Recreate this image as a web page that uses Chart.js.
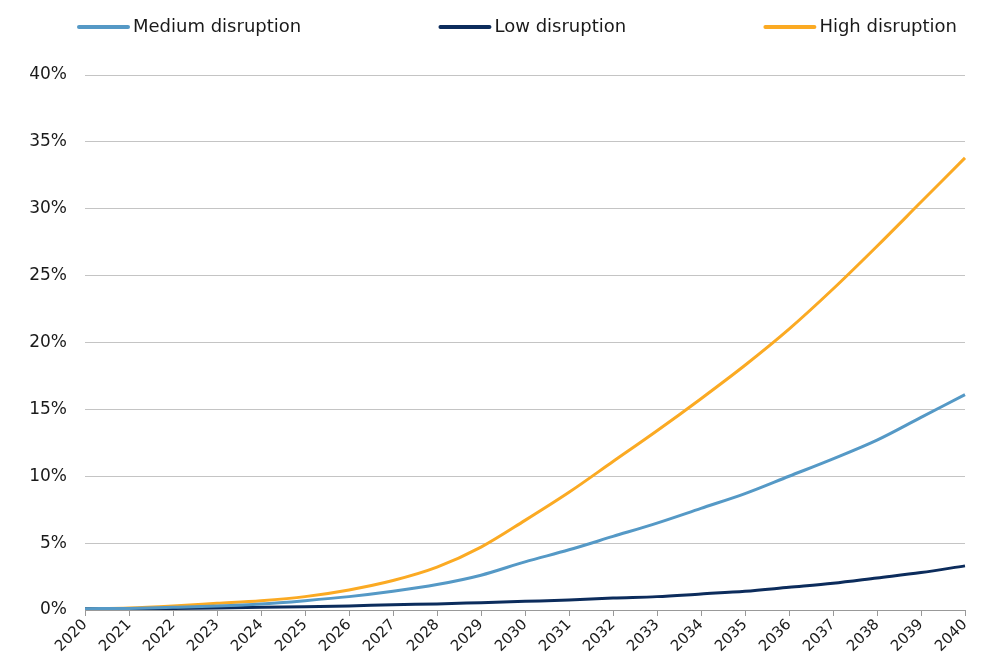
<!DOCTYPE html>
<html>
<head>
<meta charset="utf-8">
<script src="https://cdn.jsdelivr.net/npm/chart.js@4"></script>
<style>
html,body{margin:0;padding:0;background:#fff;}
#wrap{width:990px;height:665px;position:relative;}
</style>
</head>
<body>
<div id="wrap"><canvas id="c" width="990" height="665"></canvas></div>
<script>
const years = ['2020','2021','2022','2023','2024','2025','2026','2027','2028','2029','2030','2031','2032','2033','2034','2035','2036','2037','2038','2039','2040'];
const mediumDisruption = [0.1, 0.12, 0.2, 0.3, 0.45, 0.7, 1.0, 1.4, 1.9, 2.6, 3.6, 4.5, 5.5, 6.5, 7.6, 8.7, 10.0, 11.3, 12.7, 14.4, 16.1];
const lowDisruption = [0.1, 0.1, 0.12, 0.15, 0.2, 0.25, 0.3, 0.4, 0.45, 0.55, 0.65, 0.75, 0.9, 1.0, 1.2, 1.4, 1.7, 2.0, 2.4, 2.8, 3.3];
const highDisruption = [0.1, 0.15, 0.3, 0.5, 0.7, 1.0, 1.5, 2.2, 3.2, 4.7, 6.7, 8.8, 11.1, 13.4, 15.8, 18.3, 21.0, 24.0, 27.2, 30.5, 33.8];
const seriesNames = ['Medium disruption', 'Low disruption', 'High disruption'];
const yTicks = [0, 5, 10, 15, 20, 25, 30, 35, 40];

const colors = ['#5599c6', '#0c2c5c', '#fbaa23'];
const FONT = '"DejaVu Sans", sans-serif';

const customLegend = {
  id: 'customLegend',
  afterDraw(chart) {
    const ctx = chart.ctx;
    ctx.save();
    ctx.font = '18px ' + FONT;
    const lineW = 53, gapLT = 3;
    const widths = chart.data.datasets.map(d => lineW + gapLT + ctx.measureText(d.label).width);
    const x0 = 77, x1 = 957;
    const total = widths.reduce((a, b) => a + b, 0);
    const gap = (x1 - x0 - total) / (widths.length - 1);
    let x = x0;
    const y = 27;
    chart.data.datasets.forEach((d, i) => {
      ctx.strokeStyle = d.borderColor;
      ctx.lineWidth = 4;
      ctx.lineCap = 'round';
      ctx.beginPath();
      ctx.moveTo(x + 2, y);
      ctx.lineTo(x + lineW - 2, y);
      ctx.stroke();
      ctx.fillStyle = '#1a1a1a';
      ctx.textBaseline = 'middle';
      ctx.textAlign = 'left';
      ctx.fillText(d.label, x + lineW + gapLT, y);
      x += widths[i] + gap;
    });
    ctx.restore();
  }
};

new Chart(document.getElementById('c'), {
  type: 'line',
  data: {
    labels: years,
    datasets: [
      { label: seriesNames[0], data: mediumDisruption, borderColor: colors[0] },
      { label: seriesNames[1], data: lowDisruption, borderColor: colors[1] },
      { label: seriesNames[2], data: highDisruption, borderColor: colors[2] }
    ].map(d => Object.assign(d, { borderWidth: 3, pointRadius: 0, fill: false, cubicInterpolationMode: 'monotone', backgroundColor: d.borderColor }))
  },
  options: {
    responsive: false,
    animation: false,
    layout: { padding: { top: 75, right: 25, left: 0, bottom: 0 } },
    plugins: { legend: { display: false }, tooltip: { enabled: false } },
    scales: {
      x: {
        grid: { drawOnChartArea: false, drawTicks: true, tickLength: 6, color: '#999' },
        border: { display: true, color: '#999', width: 1 },
        ticks: { minRotation: 45, maxRotation: 45, autoSkip: false, color: '#1a1a1a', font: { family: FONT, size: 15 }, padding: 0 },
        afterFit(s) { s.height = 55; }
      },
      y: {
        min: 0, max: 40,
        afterBuildTicks(s) { s.ticks = yTicks.map(v => ({ value: v })); },
        grid: { color: '#c4c4c4', drawTicks: false, lineWidth: 1 },
        border: { display: false },
        ticks: { callback: v => v + '%', color: '#1a1a1a', font: { family: FONT, size: 17 }, padding: 18 },
        afterFit(s) { s.width = 85; }
      }
    }
  },
  plugins: [customLegend]
});
</script>
</body>
</html>
